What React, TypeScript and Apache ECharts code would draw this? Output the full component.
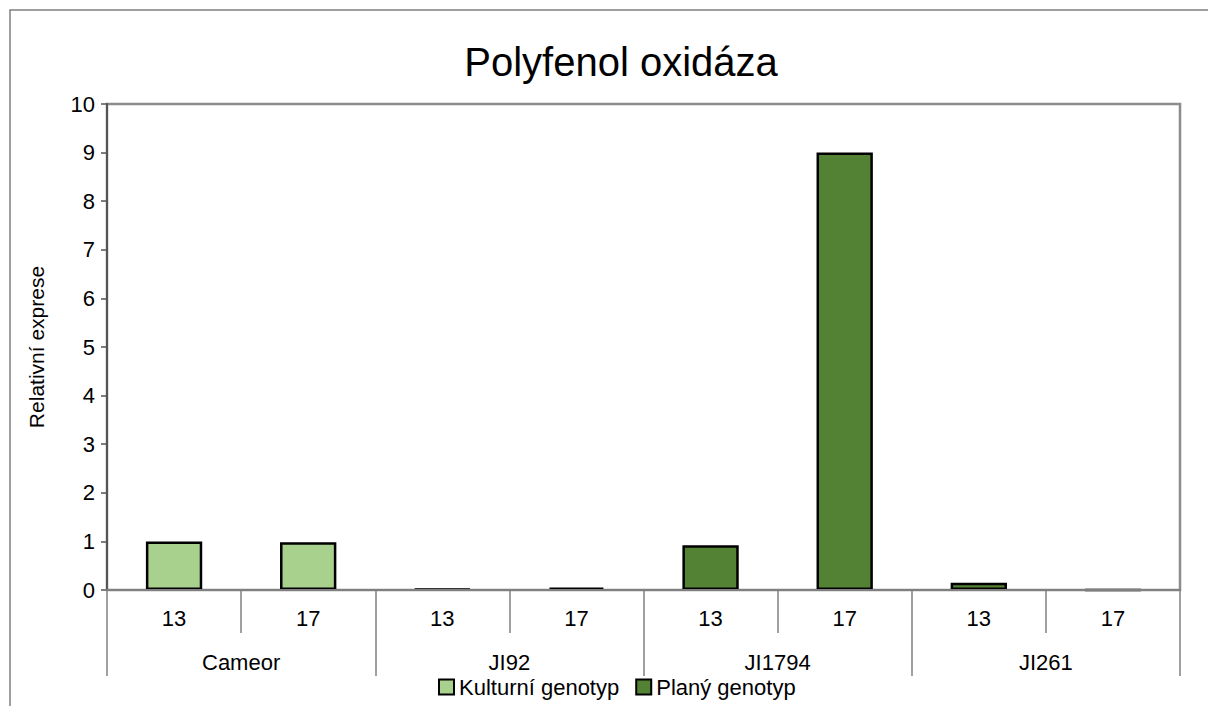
import React, { useEffect, useRef } from "react";
import * as echarts from "echarts";

const groups = ["Cameor", "JI92", "JI1794", "JI261"];
const subLabels = ["13", "17", "13", "17", "13", "17", "13", "17"];
const kulturniValues = [1.0, 0.98, null, null, null, null, null, null];
const planyValues = [null, null, 0.02, 0.05, 0.92, 9.0, 0.15, 0.005];
const yTicks = [0, 10, 1];

const FONT = "'Liberation Sans', Arial, sans-serif";

export default function App() {
  const ref = useRef<HTMLDivElement>(null);
  useEffect(() => {
    document.body.style.margin = "0";
    document.body.style.overflow = "hidden";
    const chart = echarts.init(ref.current!, undefined, { renderer: "svg" });
    chart.setOption({
      animation: false,
      backgroundColor: "#ffffff",
      textStyle: { fontFamily: FONT },
      graphic: [
        {
          type: "polyline",
          shape: { points: [[10, 760], [10, 10], [1260, 10]] },
          style: { fill: "none", stroke: "#808080", lineWidth: 1.5 },
          silent: true,
        },
        {
          type: "text",
          x: 621,
          y: 42,
          style: {
            text: "Polyfenol oxidáza",
            fontSize: 40,
            fontFamily: FONT,
            fill: "#000",
            align: "center",
            verticalAlign: "top",
          },
          silent: true,
        },
      ],
      grid: {
        left: 107,
        right: 28,
        top: 104,
        bottom: 116,
        show: true,
        borderColor: "#8c8c8c",
        borderWidth: 2.5,
        backgroundColor: "transparent",
      },
      legend: {
        top: 676,
        left: 438,
        padding: 0,
        itemWidth: 15,
        itemHeight: 15,
        itemGap: 16,
        icon: "rect",
        textStyle: { fontSize: 22, color: "#000", fontFamily: FONT },
        data: ["Kulturní genotyp", "Planý genotyp"],
      },
      xAxis: [
        {
          type: "category",
          data: subLabels,
          position: "bottom",
          axisLine: { show: true, lineStyle: { color: "#808080", width: 2 } },
          axisTick: { show: true, interval: 0, length: 43, lineStyle: { color: "#808080", width: 1.5 } },
          axisLabel: { interval: 0, margin: 17, fontSize: 22, color: "#000", fontFamily: FONT },
          z: 3,
        },
        {
          type: "category",
          data: groups,
          position: "bottom",
          offset: 43,
          axisLine: { show: false },
          axisTick: { show: true, interval: 0, length: 43, lineStyle: { color: "#808080", width: 1.5 } },
          axisLabel: { interval: 0, margin: 18, fontSize: 22, color: "#000", fontFamily: FONT },
          splitLine: { show: false },
        },
      ],
      yAxis: {
        type: "value",
        min: yTicks[0],
        max: yTicks[1],
        interval: yTicks[2],
        name: "Relativní exprese",
        nameLocation: "middle",
        nameGap: 60,
        nameRotate: 90,
        nameTextStyle: { fontSize: 21, color: "#000", fontFamily: FONT },
        axisLine: { show: true, lineStyle: { color: "#555555", width: 2 } },
        axisTick: { show: true, length: 6, lineStyle: { color: "#555555", width: 1.5 } },
        axisLabel: { fontSize: 22, color: "#000", margin: 12, fontFamily: FONT },
        splitLine: { show: false },
      },
      series: [
        {
          name: "Kulturní genotyp",
          type: "bar",
          stack: "s",
          xAxisIndex: 0,
          barWidth: "42%",
          data: kulturniValues,
          itemStyle: { color: "#A9D18E", borderColor: "#000", borderWidth: 2.5 },
        },
        {
          name: "Planý genotyp",
          type: "bar",
          stack: "s",
          xAxisIndex: 0,
          barWidth: "42%",
          data: planyValues,
          itemStyle: { color: "#548235", borderColor: "#000", borderWidth: 2.5 },
        },
      ],
    });
    return () => chart.dispose();
  }, []);
  return (
    <div
      ref={ref}
      style={{ position: "absolute", left: 0, top: 0, width: 1208, height: 706 }}
    />
  );
}
